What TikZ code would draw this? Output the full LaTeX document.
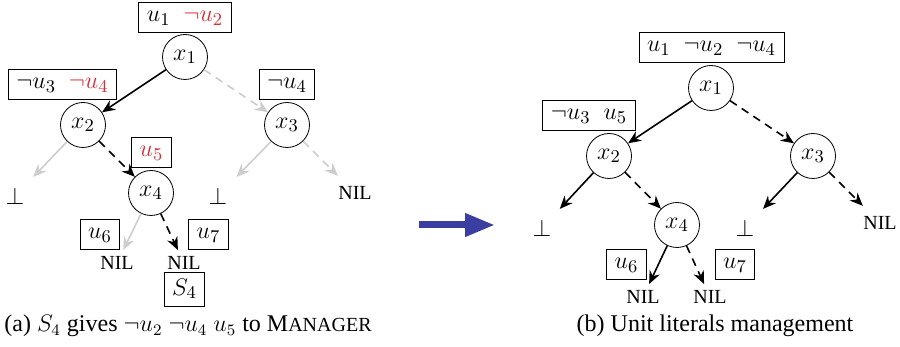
\documentclass[tikz,border=0pt]{standalone}
\usepackage{fontspec}
\setmainfont{Liberation Serif}
\usetikzlibrary{arrows.meta}

\definecolor{litred}{RGB}{214,45,55}
\definecolor{fadegray}{RGB}{205,205,205}
\definecolor{arrowblue}{RGB}{58,62,160}

\newcommand{\mathsz}{\fontsize{13}{15}\selectfont}

\tikzset{
  var/.style={circle,draw,minimum size=22.5pt,inner sep=0pt,font=\mathsz},
  lits/.style={draw,rectangle,inner xsep=4pt,inner ysep=3.5pt,text height=6pt,text depth=2pt,font=\mathsz},
  leaf/.style={inner sep=3pt},
  edge/.style={-{Stealth[length=6.5pt,width=5.5pt]},thick},
  hi/.style={dash pattern=on 4pt off 3pt},
  faded/.style={fadegray},
  toleaf/.style={shorten >=3pt},
}

\begin{document}
\begin{tikzpicture}[x=0.5pt,y=-0.5pt]
        \useasboundingbox (0,0) rectangle (900,347);

        % (a) tree explored by S4
        \node[var] (ax1) at (185,57) {$x_1$};
        \node[var] (ax2) at (83,125) {$x_2$};
        \node[var] (ax3) at (287,125) {$x_3$};
        \node[var] (ax4) at (151,193) {$x_4$};
        \node[leaf,font=\large] (abot1) at (15,196) {$\bot$};
        \node[leaf,font=\large] (abot2) at (218,196) {$\bot$};
        \node[leaf] (anil1) at (355,193) {NIL};
        \node[leaf] (anil2) at (117,263) {NIL};
        \node[leaf] (anil3) at (184,263) {NIL};

        % (a) literals
        \node[lits] at (185,17.5) {$u_1\enspace{\color{litred}\neg u_2}$};
        \node[lits] at (62.5,84.5) {$\neg u_3\enspace{\color{litred}\neg u_4}$};
        \node[lits] at (287,84.5) {$\neg u_4$};
        \node[lits] at (151.5,152.5) {$\color{litred}u_5$};
        \node[lits] at (100,234.5) {$u_6$};
        \node[lits] at (208.5,234.5) {$u_7$};
        \node[draw,inner xsep=4pt,inner ysep=3.5pt,font=\mathsz] (as4) at (184.5,289) {$S_4$};

        % (a) edges
        \draw[edge] (ax1) -- (ax2);
        \draw[edge,hi,faded] (ax1) -- (ax3);
        \draw[edge,faded,toleaf] (ax2) -- (abot1);
        \draw[edge,hi] (ax2) -- (ax4);
        \draw[edge,faded,toleaf] (ax3) -- (abot2);
        \draw[edge,hi,faded,toleaf] (ax3) -- (anil1);
        \draw[edge,faded] (ax4) -- (anil2);
        \draw[edge,hi] (ax4) -- (anil3);

        % blue arrow
        \coordinate (gofrom) at (419,225);
        \coordinate (goto) at (495,225);
        \draw[arrowblue,line width=3.5pt,-{Triangle[length=15pt,width=11pt]}] (gofrom) -- (goto);

        % (b) tree after management
        \node[var] (bx1) at (711,88) {$x_1$};
        \node[var] (bx2) at (609,156) {$x_2$};
        \node[var] (bx3) at (813,156) {$x_3$};
        \node[var] (bx4) at (677,225) {$x_4$};
        \node[leaf,font=\large] (bbot1) at (542,228) {$\bot$};
        \node[leaf,font=\large] (bbot2) at (745,228) {$\bot$};
        \node[leaf] (bnil1) at (880,223) {NIL};
        \node[leaf] (bnil2) at (643,297) {NIL};
        \node[leaf] (bnil3) at (710,297) {NIL};

        % (b) literals
        \node[lits] at (711.5,47.5) {$u_1\enspace\neg u_2\enspace\neg u_4$};
        \node[lits] at (589,115.5) {$\neg u_3\enspace u_5$};
        \node[lits] at (626.5,264.5) {$u_6$};
        \node[lits] at (735,264.5) {$u_7$};

        % (b) edges
        \draw[edge] (bx1) -- (bx2);
        \draw[edge,hi] (bx1) -- (bx3);
        \draw[edge,toleaf] (bx2) -- (bbot1);
        \draw[edge,hi] (bx2) -- (bx4);
        \draw[edge,toleaf] (bx3) -- (bbot2);
        \draw[edge,hi,toleaf] (bx3) -- (bnil1);
        \draw[edge] (bx4) -- (bnil2);
        \draw[edge,hi] (bx4) -- (bnil3);

        % Captions
        \node (capa) at (188,326) {\large (a) $S_4$ gives $\neg u_2$ $\neg u_4$ $u_5$ to M{\normalsize ANAGER}};
        \node (capb) at (715,326) {\large (b) Unit literals management};
\end{tikzpicture}
\end{document}
